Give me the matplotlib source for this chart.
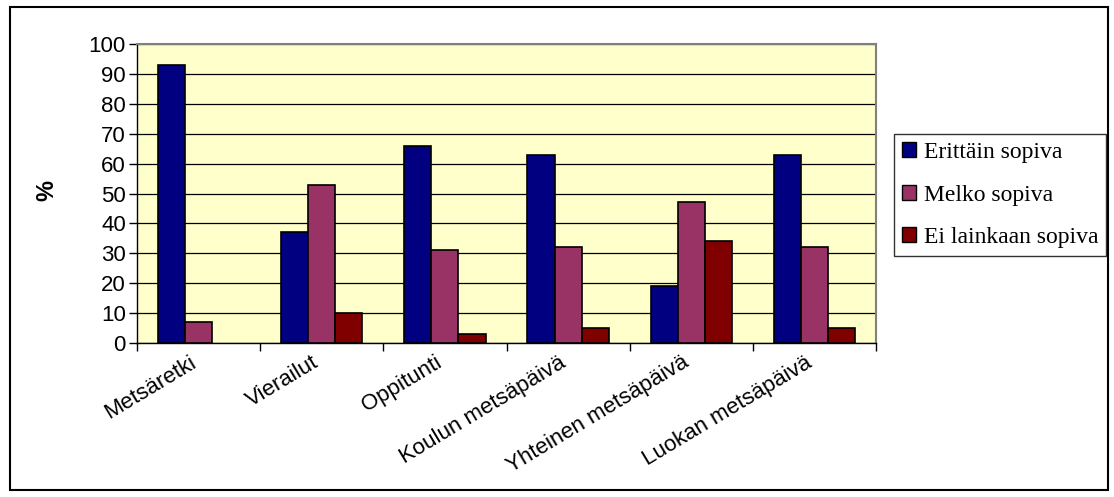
import numpy as np
import matplotlib
matplotlib.use("Agg")
import matplotlib.pyplot as plt
from matplotlib.patches import Rectangle

categories = ['Metsäretki', 'Vierailut', 'Oppitunti', 'Koulun metsäpäivä',
              'Yhteinen metsäpäivä', 'Luokan metsäpäivä']
series_names = ['Erittäin sopiva', 'Melko sopiva', 'Ei lainkaan sopiva']
erittain = [93, 37, 66, 63, 19, 63]
melko = [7, 53, 31, 32, 47, 32]
ei_lainkaan = [0, 10, 3, 5, 34, 5]
colors = ['#000080', '#993366', '#800000']

W, H = 1114, 497
fig = plt.figure(figsize=(W / 100, H / 100), dpi=100)

# outer chart border
fig.patches.append(Rectangle((10 / W, 1 - 490 / H), 1098 / W, 483 / H,
                             transform=fig.transFigure, fill=False,
                             edgecolor='black', linewidth=1.5))

ax = fig.add_axes([137 / W, 1 - 343 / H, (876 - 137) / W, (343 - 44) / H])
ax.set_facecolor('#FFFFCC')

x = np.arange(len(categories))
bw = 0.22
handles = []
for i, (vals, name) in enumerate(zip([erittain, melko, ei_lainkaan], series_names)):
    bars = ax.bar(x + (i - 1) * bw, vals, bw, color=colors[i], edgecolor='black',
                  linewidth=1.2, zorder=3)
    # zero-height bars are not drawn (like in the original)
    for b in bars:
        if b.get_height() == 0:
            b.set_visible(False)
    handles.append(Rectangle((0, 0), 1, 1, facecolor=colors[i],
                             edgecolor='black', linewidth=1, label=name))

ax.set_xlim(-0.5, len(categories) - 0.5)
ax.set_ylim(0, 100)
ax.set_yticks(range(0, 101, 10))
ax.yaxis.grid(True, color='black', linewidth=0.9, zorder=1)
ax.set_axisbelow(True)

# category boundary ticks on x axis
ax.set_xticks(np.arange(-0.5, len(categories)), minor=False)
ax.set_xticklabels([])
ax.tick_params(axis='x', direction='out', length=6, width=1)
ax.tick_params(axis='y', direction='out', length=6, width=1, labelsize=16, pad=2)
for lab in ax.get_yticklabels():
    lab.set_fontfamily('Liberation Sans')

for xi, name in zip(x, categories):
    ax.text(xi - 0.08, -3, name, rotation=31, ha='right', va='top',
            rotation_mode='anchor', fontsize=16, family='Liberation Sans',
            transform=ax.transData)

for side in ['top', 'right']:
    ax.spines[side].set_color('#808080')
    ax.spines[side].set_linewidth(1.5)
for side in ['left', 'bottom']:
    ax.spines[side].set_color('black')
    ax.spines[side].set_linewidth(1)

fig.text(47 / W, 1 - 190 / H, '%', rotation=90, ha='center', va='center',
         fontsize=17, fontweight='bold', family='Liberation Sans')

leg = fig.legend(handles=handles, loc='upper left',
                 bbox_to_anchor=(894 / W, 1 - 134 / H),
                 prop={'family': 'Liberation Serif', 'size': 17},
                 frameon=True, fancybox=False, edgecolor='black',
                 handlelength=0.6, handleheight=0.6, handletextpad=0.3,
                 borderpad=0.35, labelspacing=0.9, borderaxespad=0)
leg.get_frame().set_linewidth(1)

fig.savefig('out.png', dpi=100)
